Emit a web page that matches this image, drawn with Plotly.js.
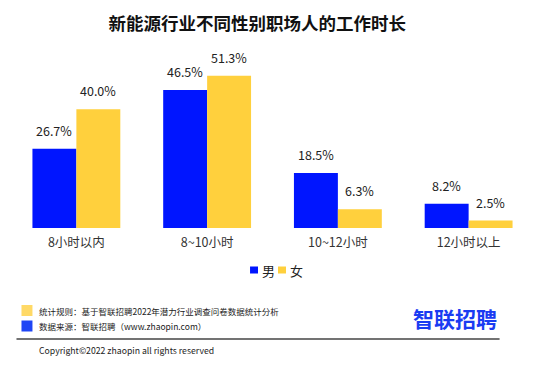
<!DOCTYPE html>
<html>
<head>
<meta charset="utf-8">
<script src="https://cdn.plot.ly/plotly-3.0.1.min.js"></script>
<style>
html,body{margin:0;padding:0;background:#fff;}
#chart{width:552px;height:365px;}
</style>
</head>
<body>
<div id="chart"></div>
<script>
// ---- data ----
const categories = ['8小时以内', '8~10小时', '10~12小时', '12小时以上'];
const seriesNames = ['男', '女'];
const maleValues = [26.7, 46.5, 18.5, 8.2];
const femaleValues = [40.0, 51.3, 6.3, 2.5];
const seriesColors = ['#0015ff', '#ffd03d'];
const titleText = '新能源行业不同性别职场人的工作时长';
const footNotes = ['统计规则：基于智联招聘2022年潜力行业调查问卷数据统计分析', '数据来源：智联招聘（www.zhaopin.com）'];
const footColors = ['#ffd966', '#1f45f5'];
const copyrightText = 'Copyright©2022 zhaopin all rights reserved';
const logoText = '智联招聘';

const FONT = '"Noto Sans CJK SC", "Noto Sans", sans-serif';
const allValues = [maleValues, femaleValues];

const traces = allValues.map((vals, i) => ({
  type: 'bar',
  name: seriesNames[i],
  x: categories,
  y: vals,
  marker: {color: seriesColors[i]},
  hoverinfo: 'skip',
  showlegend: false
}));

const annotations = [];
// value labels above bars
allValues.forEach((vals, i) => {
  vals.forEach((v, j) => {
    annotations.push({
      x: categories[j], y: v, xref: 'x', yref: 'y',
      text: v.toFixed(1) + '%', showarrow: false,
      xshift: i === 0 ? -22 : 22, yanchor: 'bottom', yshift: 7,
      font: {family: FONT, size: 12.5, color: '#222'}
    });
  });
});

const shapes = [];
// custom legend
const legendX = [250, 278];
seriesNames.forEach((n, i) => {
  shapes.push({type: 'rect', xref: 'paper', yref: 'paper',
    x0: (legendX[i] - 10.5) / 524, x1: (legendX[i] + 8 - 10.5) / 524,
    y0: (228 - 273.5) / 178, y1: (228 - 266.5) / 178,
    fillcolor: seriesColors[i], line: {width: 0}});
  annotations.push({xref: 'paper', yref: 'paper',
    x: (legendX[i] + 10 - 10.5) / 524, y: (228 - 270) / 178,
    xanchor: 'left', yanchor: 'middle', text: n, showarrow: false,
    font: {family: FONT, size: 13, color: '#222'}});
});
// footer squares + notes
const footY = [310.5, 326];
footNotes.forEach((t, i) => {
  shapes.push({type: 'rect', xref: 'paper', yref: 'paper',
    x0: (21 - 10.5) / 524, x1: (32 - 10.5) / 524,
    y0: (228 - (footY[i] + 5.5)) / 178, y1: (228 - (footY[i] - 5.5)) / 178,
    fillcolor: footColors[i], line: {width: 0}});
  annotations.push({xref: 'paper', yref: 'paper',
    x: (37 - 10.5) / 524, y: (228 - footY[i]) / 178,
    xanchor: 'left', yanchor: 'middle', text: t, showarrow: false,
    font: {family: FONT, size: 8.5, color: '#222'}});
});
// separator line
shapes.push({type: 'line', xref: 'paper', yref: 'paper',
  x0: (16 - 10.5) / 524, x1: (500 - 10.5) / 524,
  y0: (228 - 339) / 178, y1: (228 - 339) / 178,
  line: {color: '#444', width: 1.5}});
annotations.push({xref: 'paper', yref: 'paper',
  x: (37 - 10.5) / 524, y: (228 - 350) / 178,
  xanchor: 'left', yanchor: 'middle', text: copyrightText, showarrow: false,
  font: {family: FONT, size: 8.7, color: '#222'}});
// logo
annotations.push({xref: 'paper', yref: 'paper',
  x: (455 - 10.5) / 524, y: (228 - 317.5) / 178,
  xanchor: 'center', yanchor: 'middle', text: '<b>' + logoText + '</b>', showarrow: false,
  font: {family: FONT, size: 21, color: '#1a3cf2'}});

const layout = {
  width: 552, height: 365,
  margin: {l: 10.5, r: 17.5, t: 50, b: 137, pad: 0},
  paper_bgcolor: '#fff', plot_bgcolor: '#fff',
  title: {text: '<b>' + titleText + '</b>', x: 0.466, xanchor: 'center', y: 0.935, yanchor: 'middle',
    font: {family: FONT, size: 17.5, color: '#111'}},
  barmode: 'group', bargap: 0.328, bargroupgap: 0,
  xaxis: {type: 'category', range: [-0.5, 3.5], showgrid: false, zeroline: false, showline: false,
    ticks: '', ticklen: 0, ticklabelstandoff: 5, tickfont: {family: FONT, size: 12.5, color: '#333'}, fixedrange: true},
  yaxis: {range: [0, 60], visible: false, showgrid: false, zeroline: false, fixedrange: true},
  showlegend: false,
  annotations: annotations,
  shapes: shapes,
  font: {family: FONT}
};

Plotly.newPlot('chart', traces, layout, {displayModeBar: false, staticPlot: true});
</script>
</body>
</html>
